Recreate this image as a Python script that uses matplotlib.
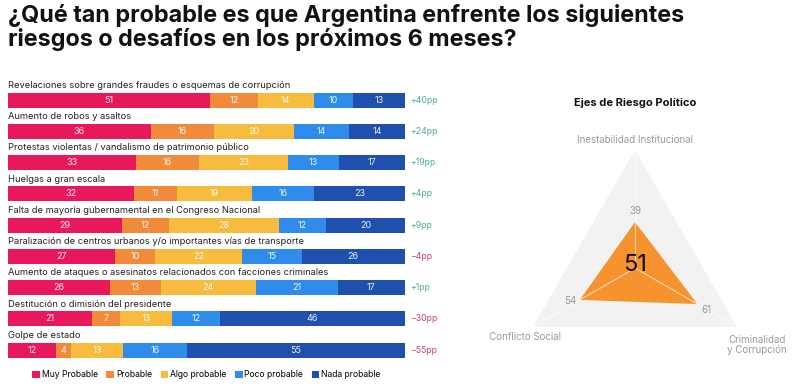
import numpy as np
import matplotlib
matplotlib.use("Agg")
from matplotlib import pyplot as plt
from matplotlib.patches import Patch, Polygon

plt.rcParams['font.family'] = ['Inter', 'DejaVu Sans']

risks = [
    "Revelaciones sobre grandes fraudes o esquemas de corrupción",
    "Aumento de robos y asaltos",
    "Protestas violentas / vandalismo de patrimonio público",
    "Huelgas a gran escala",
    "Falta de mayoría gubernamental en el Congreso Nacional",
    "Paralización de centros urbanos y/o importantes vías de transporte",
    "Aumento de ataques o asesinatos relacionados con facciones criminales",
    "Destitución o dimisión del presidente",
    "Golpe de estado",
]
muy_probable = [51, 36, 33, 32, 29, 27, 26, 21, 12]
probable = [12, 16, 16, 11, 12, 10, 13, 7, 4]
algo_probable = [14, 20, 23, 19, 28, 22, 24, 13, 13]
poco_probable = [10, 14, 13, 16, 12, 15, 21, 12, 16]
nada_probable = [13, 14, 17, 23, 20, 26, 17, 46, 55]
net_pp = [40, 24, 19, 4, 9, -4, 1, -30, -55]

categories = ["Muy Probable", "Probable", "Algo probable", "Poco probable", "Nada probable"]
colors = ["#E8195A", "#F28A3C", "#F7BC3E", "#2F8CEB", "#1F50AE"]

axes_names = ["Inestabilidad Institucional", "Conflicto Social", "Criminalidad\ny Corrupción"]
axes_values = [39, 54, 61]
overall_index = 51


def main():
    fig = plt.figure(figsize=(8, 3.87), dpi=100)

    fig.text(0.01, 0.99, "¿Qué tan probable es que Argentina enfrente los siguientes\n"
             "riesgos o desafíos en los próximos 6 meses?",
             fontsize=16.8, fontweight='bold', va='top', ha='left',
             linespacing=1.08, color='#111111')

    # stacked bars, each row scaled to 100%
    ax = fig.add_axes([0.01, 0.047, 0.496, 0.743])
    series = np.array([muy_probable, probable, algo_probable, poco_probable, nada_probable],
                      dtype=float)
    totals = series.sum(axis=0)
    y = np.arange(len(risks))
    left = np.zeros(len(risks))
    for vals, col in zip(series, colors):
        widths = vals / totals * 100
        ax.barh(y, widths, left=left, height=0.48, color=col)
        for yi, l, w, v in zip(y, left, widths, vals):
            ax.text(l + w / 2, yi, str(int(v)), ha='center', va='center',
                    fontsize=6.5, color='white', alpha=0.9)
        left = left + widths
    for yi, name in zip(y, risks):
        ax.text(0, yi - 0.47, name, ha='left', va='center', fontsize=6.7, color='#222222')
    for yi, pp in zip(y, net_pp):
        txt = f"+{pp}pp" if pp > 0 else f"{pp}pp".replace("-", "−")
        ax.text(101.3, yi, txt, ha='left', va='center', fontsize=6.3,
                color='#4FB08F' if pp > 0 else '#D23F72')
    ax.set_xlim(0, 100)
    ax.set_ylim(8.6, -0.6)
    ax.axis('off')

    handles = [Patch(facecolor=c, label=n) for c, n in zip(colors, categories)]
    fig.legend(handles=handles, loc='center', bbox_to_anchor=(0.258, 0.032), ncol=5,
               frameon=False, fontsize=6.2, handlelength=0.9, handleheight=0.9,
               handletextpad=0.2, columnspacing=1.0)

    # triangle radar
    ax2 = fig.add_axes([0.60625, 0.018, 0.375, 0.749])
    ax2.set_xlim(-1.27, 1.27)
    ax2.set_ylim(-0.949, 1.508)
    ax2.axis('off')
    angles = np.deg2rad([90, 210, 330])
    outer = np.column_stack([np.cos(angles), np.sin(angles)])
    ax2.add_patch(Polygon(outer, closed=True, facecolor='#F2F2F2', edgecolor='none'))
    for px, py in outer:
        ax2.plot([0, px], [0, py], color='white', lw=0.5)
    r = np.array(axes_values) / 100
    inner = np.column_stack([r * np.cos(angles), r * np.sin(angles)])
    ax2.add_patch(Polygon(inner, closed=True, facecolor='#F7932F', edgecolor='none'))
    ax2.text(inner[0, 0], inner[0, 1] + 0.05, str(axes_values[0]), ha='center', va='bottom',
             fontsize=7, color='#999999')
    ax2.text(inner[1, 0] - 0.03, inner[1, 1] - 0.01, str(axes_values[1]), ha='right',
             va='center', fontsize=7, color='#999999')
    ax2.text(inner[2, 0] + 0.03, inner[2, 1] - 0.01, str(axes_values[2]), ha='left', va='top',
             fontsize=7, color='#999999')
    ax2.text(0, 0.03, str(overall_index), ha='center', va='center', fontsize=17, color='#111111')
    ax2.text(0, 1.085, axes_names[0], ha='center', va='center', fontsize=7, color='#999999')
    ax2.text(-0.93, -0.585, axes_names[1], ha='center', va='center', fontsize=7, color='#999999')
    ax2.text(1.03, -0.65, axes_names[2], ha='center', va='center', fontsize=7,
             color='#999999', linespacing=1.0)
    ax2.text(0, 1.40, "Ejes de Riesgo Político", ha='center', va='center',
             fontsize=8, fontweight='bold', color='#111111')

    fig.savefig("out.png", dpi=100)


if __name__ == "__main__":
    main()
